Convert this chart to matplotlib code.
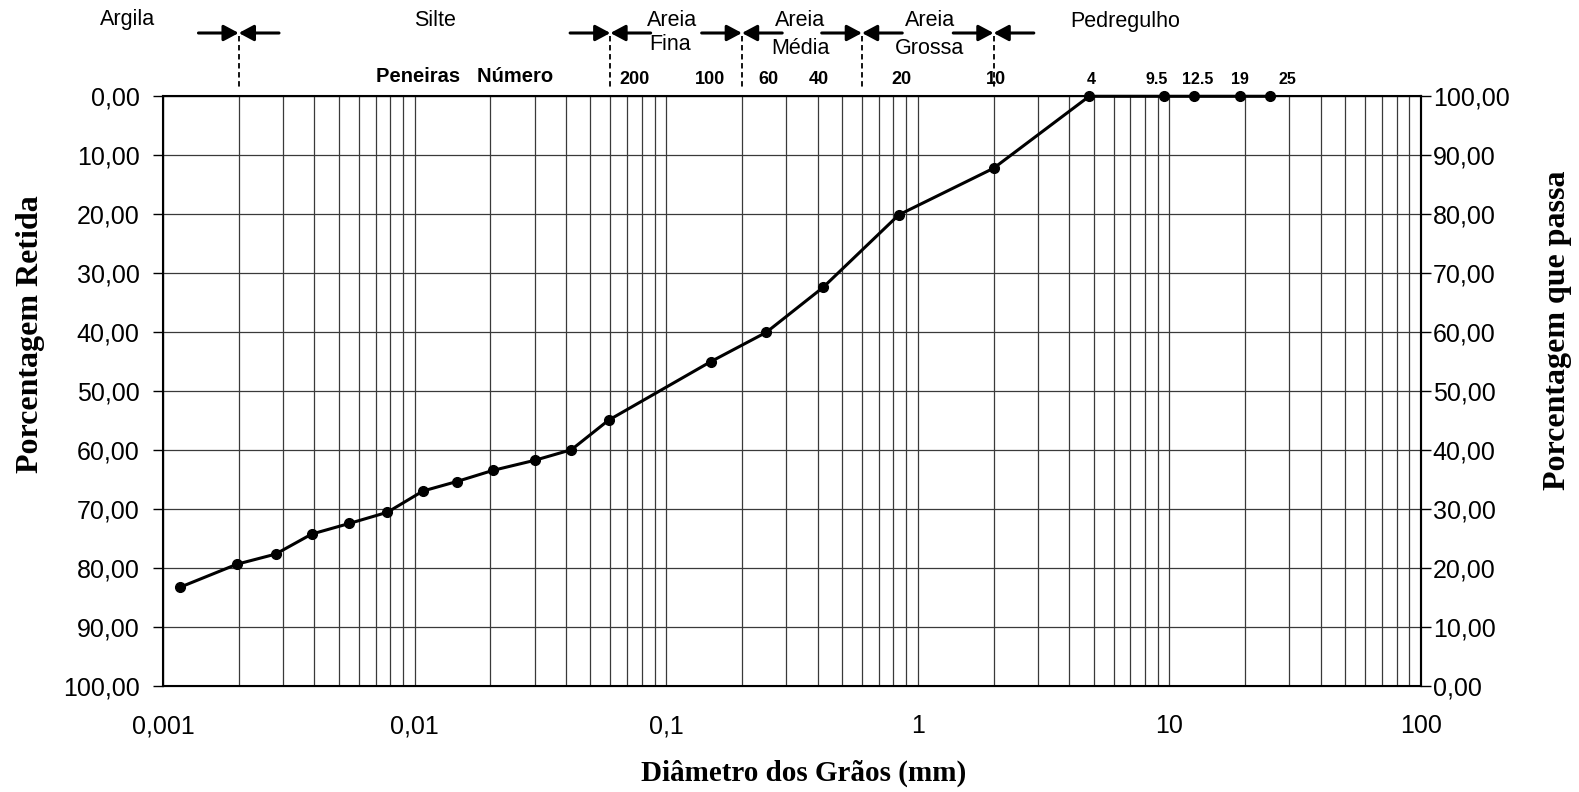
import numpy as np
import matplotlib.pyplot as plt
from matplotlib.ticker import LogLocator, FixedLocator, NullFormatter
import matplotlib.transforms as mtransforms

# grain size curve (diameter in mm, percent retained)
diametro = [0.00117, 0.00197, 0.0028, 0.0039, 0.0055, 0.0078, 0.0108, 0.0147,
            0.0205, 0.030, 0.042, 0.059, 0.150, 0.250, 0.420, 0.840, 2.00,
            4.80, 9.5, 12.5, 19.0, 25.0]
retida = [83.2, 79.3, 77.6, 74.2, 72.4, 70.5, 66.9, 65.3,
          63.4, 61.7, 59.9, 54.9, 45.0, 40.0, 32.4, 20.1, 12.2,
          0.0, 0.0, 0.0, 0.0, 0.0]

# soil class boundaries (mm)
limites = [0.002, 0.06, 0.2, 0.6, 2.0]

# sieve numbers written above the plot
peneiras_num = ["200", "100", "60", "40", "20", "10", "4", "9.5", "12.5", "19", "25"]
peneiras_mm = [0.075, 0.15, 0.25, 0.42, 0.84, 2.0, 4.76, 9.5, 12.5, 19.0, 25.0]

x_ticks = [0.001, 0.01, 0.1, 1, 10, 100]
x_ticklabels = ["0,001", "0,01", "0,1", "1", "10", "100"]
y_ticks = np.arange(0, 101, 10)

W, H = 1579, 792
sans = "Liberation Sans"
serif = "Liberation Serif"

fig = plt.figure(figsize=(W / 100, H / 100), dpi=100)
ax = fig.add_axes([163 / W, 1 - 686.3 / H, (1421 - 163) / W, (686.3 - 96.3) / H])

ax.set_xscale("log")
ax.set_xlim(0.001, 100)
ax.set_ylim(100, 0)

ax.xaxis.set_major_locator(FixedLocator(x_ticks))
ax.set_xticklabels(x_ticklabels, fontsize=18, family=sans)
ax.xaxis.set_minor_locator(LogLocator(base=10, subs=range(2, 10), numticks=50))
ax.xaxis.set_minor_formatter(NullFormatter())
ax.tick_params(axis="x", which="both", length=0, pad=20)

ax.set_yticks(y_ticks)
ax.set_yticklabels([f"{v:.2f}".replace(".", ",") for v in y_ticks], fontsize=18, family=sans)
ax.tick_params(axis="y", length=7, width=1, pad=10)

ax.grid(True, which="both", axis="x", color="#3a3a3a", lw=0.9)
ax.grid(True, which="major", axis="y", color="#3a3a3a", lw=0.9)
for s in ax.spines.values():
    s.set_linewidth(1.5)

ax.plot(diametro, retida, color="black", lw=2.2, marker="o", ms=7, clip_on=False, zorder=5)

ax2 = ax.twinx()
ax2.set_ylim(0, 100)
ax2.set_yticks(y_ticks)
ax2.set_yticklabels([f"{v:.2f}".replace(".", ",") for v in y_ticks], fontsize=18, family=sans)
ax2.tick_params(axis="y", length=7, width=1, pad=1.5)
ax2.spines["right"].set_linewidth(1.5)

# axis titles
fig.text(31 / W, 1 - 334 / H, "Porcentagem Retida", rotation=90, ha="center", va="center",
         fontsize=23, fontweight="bold", family=serif)
fig.text(1557 / W, 1 - 330 / H, "Porcentagem que passa", rotation=90, ha="center", va="center",
         fontsize=23, fontweight="bold", family=serif)
fig.text(804 / W, 1 - 773 / H, "Diâmetro dos Grãos (mm)", ha="center", va="center",
         fontsize=21, fontweight="bold", family=serif)

# class boundaries: arrows and dashed lines above the axes
trans = mtransforms.blended_transform_factory(ax.transData, ax.transAxes)
y_arrow = (686.3 - 33) / 590
for b in limites:
    for side in (-1, 1):
        ax.annotate("", xy=(b, y_arrow), xycoords=trans,
                    xytext=(side * 29, 0), textcoords="offset points",
                    arrowprops=dict(arrowstyle="-|>,head_length=0.45,head_width=0.24",
                                    color="black", lw=2.2, mutation_scale=20,
                                    shrinkA=0, shrinkB=0),
                    annotation_clip=False)
    ax.plot([b, b], [(686.3 - 36) / 590, (686.3 - 90) / 590], transform=trans,
            color="black", lw=1.3, ls=(0, (3, 2)), clip_on=False)

# soil class names
classes = [("Argila", 128, 20), ("Silte", 435, 20),
           ("Areia", 672, 20), ("Fina", 670, 44),
           ("Areia", 800, 20), ("Média", 800, 48),
           ("Areia", 930, 20), ("Grossa", 930, 48),
           ("Pedregulho", 1125, 22)]
for txt, px, py in classes:
    fig.text(px / W, 1 - py / H, txt, ha="center", va="center", fontsize=15.5, family=sans)

fig.text(465 / W, 1 - 76 / H, "Peneiras   Número", ha="center", va="center",
         fontsize=14.5, fontweight="bold", family=sans)

# sieve numbers
offsets = [0, -1, 2, -4, 3, 2.5, 3, -7, 4, 0, 18]
for i, (lab, mm) in enumerate(zip(peneiras_num, peneiras_mm)):
    fs = 13 if i < 6 else 11.5
    ax.annotate(lab, xy=(mm, (686.3 - 79) / 590), xycoords=trans,
                xytext=(offsets[i] * 0.72, 0), textcoords="offset points",
                ha="center", va="center", fontsize=fs, fontweight="bold", family=sans,
                annotation_clip=False)

fig.savefig("out.png", dpi=100)
